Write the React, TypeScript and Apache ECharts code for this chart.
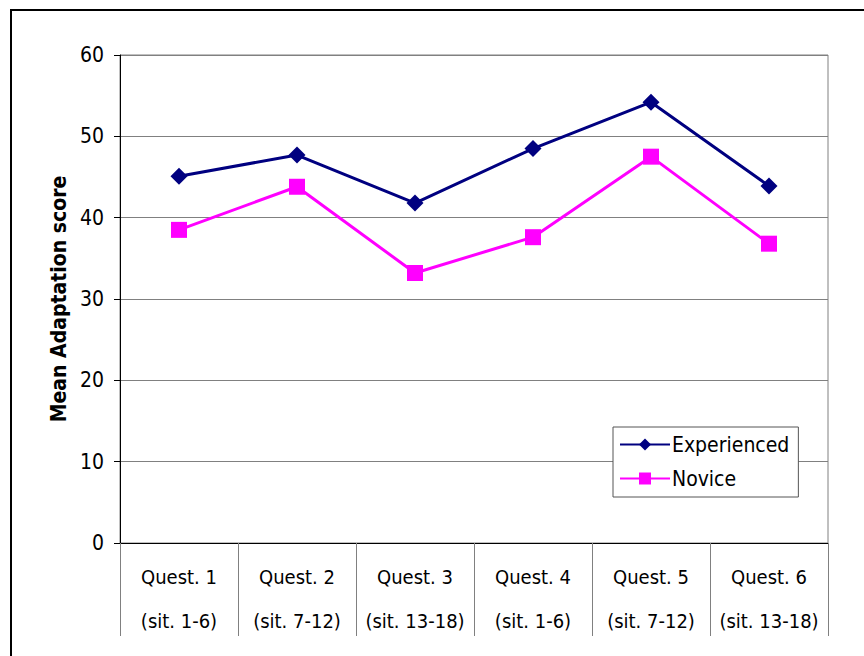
import React, { useEffect, useRef } from "react";
import * as echarts from "echarts";

const categories = [
  "Quest. 1\n(sit. 1-6)",
  "Quest. 2\n(sit. 7-12)",
  "Quest. 3\n(sit. 13-18)",
  "Quest. 4\n(sit. 1-6)",
  "Quest. 5\n(sit. 7-12)",
  "Quest. 6\n(sit. 13-18)",
];
const experienced = [45.1, 47.7, 41.8, 48.5, 54.2, 43.9];
const novice = [38.5, 43.8, 33.2, 37.6, 47.5, 36.8];
const yTicks = [0, 10, 20, 30, 40, 50, 60];

const FONT = "'DejaVu Sans Condensed', 'DejaVu Sans', sans-serif";

export default function App() {
  const ref = useRef<HTMLDivElement>(null);
  useEffect(() => {
    if (!ref.current) return;
    const chart = echarts.init(ref.current, undefined, { renderer: "svg" });
    chart.setOption({
      animation: false,
      backgroundColor: "#ffffff",
      textStyle: { fontFamily: FONT },
      graphic: [
        {
          type: "rect",
          shape: { x: 11, y: 10, width: 900, height: 700 },
          style: { fill: "none", stroke: "#000000", lineWidth: 2 },
          silent: true,
        },
      ],
      grid: {
        left: 120,
        top: 55,
        width: 708,
        height: 488,
        show: true,
        borderColor: "#808080",
        borderWidth: 1,
        backgroundColor: "transparent",
      },
      legend: {
        left: 613,
        top: 427,
        orient: "vertical",
        backgroundColor: "#ffffff",
        borderColor: "#555555",
        borderWidth: 1,
        padding: [7, 9, 8, 6],
        itemGap: 13,
        itemWidth: 50,
        itemHeight: 15,
        textStyle: { fontSize: 21, color: "#000", fontFamily: FONT, padding: [0, 0, 0, -3] },
        data: ["Experienced", "Novice"],
      },
      xAxis: {
        type: "category",
        data: categories,
        boundaryGap: true,
        axisLine: { show: true, lineStyle: { color: "#000000", width: 1 } },
        axisTick: {
          show: true,
          interval: 0,
          length: 93,
          lineStyle: { color: "#808080", width: 1 },
        },
        axisLabel: {
          interval: 0,
          margin: 12,
          fontSize: 20,
          lineHeight: 44,
          color: "#000",
          fontFamily: FONT,
        },
        splitLine: { show: false },
      },
      yAxis: {
        type: "value",
        min: yTicks[0],
        max: yTicks[yTicks.length - 1],
        interval: 10,
        name: "Mean Adaptation score",
        nameLocation: "middle",
        nameGap: 50,
        nameRotate: 90,
        nameTextStyle: { fontSize: 21, fontWeight: "bold", color: "#000", fontFamily: FONT },
        axisLine: { show: true, lineStyle: { color: "#000000", width: 1 } },
        axisTick: { show: true, inside: false, length: 6, lineStyle: { color: "#000" } },
        axisLabel: { fontSize: 21, color: "#000", margin: 16, fontFamily: FONT },
        splitLine: { show: true, lineStyle: { color: "#808080", width: 1 } },
      },
      series: [
        {
          name: "Experienced",
          type: "line",
          data: experienced,
          color: "#000080",
          lineStyle: { color: "#000080", width: 3 },
          itemStyle: { color: "#000080" },
          symbol: "diamond",
          symbolSize: 17,
          z: 3,
        },
        {
          name: "Novice",
          type: "line",
          data: novice,
          color: "#FF00FF",
          lineStyle: { color: "#FF00FF", width: 3 },
          itemStyle: { color: "#FF00FF" },
          symbol: "rect",
          symbolSize: 16,
          z: 2,
        },
      ],
    });
    return () => chart.dispose();
  }, []);
  return (
    <div
      ref={ref}
      style={{ position: "fixed", left: 0, top: 0, width: 864, height: 656 }}
    />
  );
}
